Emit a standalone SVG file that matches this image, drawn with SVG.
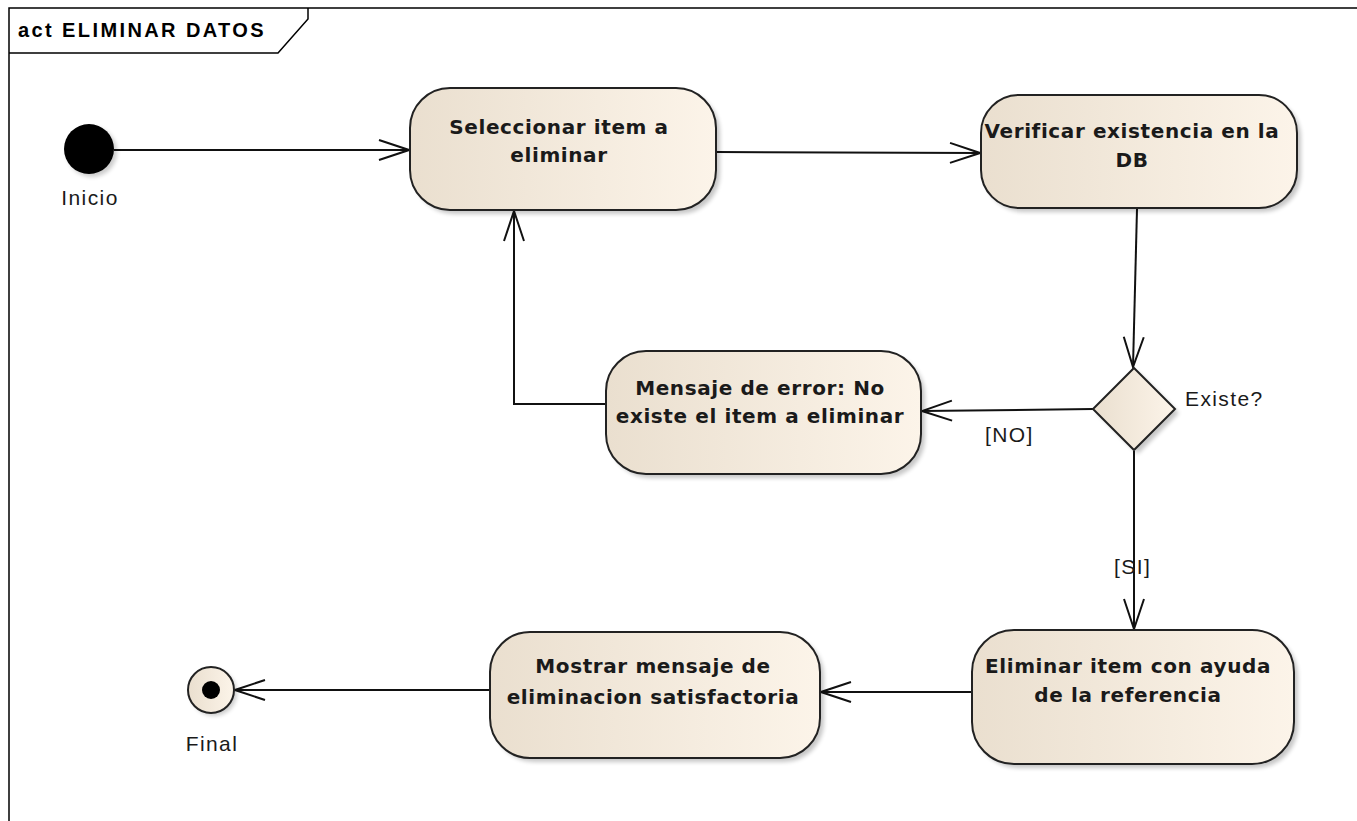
<svg xmlns="http://www.w3.org/2000/svg" width="1357" height="821" viewBox="0 0 1357 821">
  <style>
    .frame { fill: none; stroke: #000; stroke-width: 1.5; }
    .node { fill: url(#nodeFill); stroke: #222; stroke-width: 2; }
    .shadow { fill: #000; opacity: 0.22; filter: url(#soft); }
    .label { font-family: "DejaVu Sans", Verdana, sans-serif; font-weight: bold; font-size: 20px; letter-spacing: 0.6px; fill: #1a1a1a; text-anchor: middle; }
    .note { font-family: "Liberation Sans", Arial, sans-serif; font-size: 21px; letter-spacing: 1.4px; fill: #1a1a1a; }
    .title { font-family: "Liberation Sans", Arial, sans-serif; font-weight: bold; font-size: 20px; letter-spacing: 2.4px; fill: #000; }
    .edge { fill: none; stroke: #111; stroke-width: 2; marker-end: url(#open); }
  </style>
  <defs>
    <linearGradient id="nodeFill" x1="0" y1="0" x2="1" y2="0">
      <stop offset="0" stop-color="#eadfcf"/>
      <stop offset="1" stop-color="#fcf4e9"/>
    </linearGradient>
    <filter id="soft" x="-10%" y="-10%" width="120%" height="120%">
      <feGaussianBlur stdDeviation="2"/>
    </filter>
    <marker id="open" markerWidth="34" markerHeight="24" refX="32" refY="12" orient="auto" markerUnits="userSpaceOnUse">
      <path d="M2,2 L32,12 L2,22" fill="none" stroke="#111" stroke-width="2"/>
    </marker>
  </defs>

  <rect width="1357" height="821" fill="#fff"/>

  <!-- activity frame -->
  <g id="frame">
    <path class="frame" d="M9,821 L9,8 L1357,8"/>
    <path class="frame" d="M9,53 L278,53 L308,19 L308,8"/>
    <text class="title" x="18" y="37">act ELIMINAR DATOS</text>
  </g>

  <!-- connectors -->
  <g id="connectors">
    <line class="edge" x1="114" y1="150" x2="409" y2="150"/>
    <line class="edge" x1="716" y1="152" x2="980" y2="153"/>
    <line class="edge" x1="1137" y1="209" x2="1133" y2="367"/>
    <line class="edge" x1="1093" y1="409" x2="922" y2="411"/>
    <polyline class="edge" points="606,404 514,404 514,211"/>
    <line class="edge" x1="1134" y1="451" x2="1134" y2="629"/>
    <line class="edge" x1="972" y1="692" x2="821" y2="692"/>
    <line class="edge" x1="490" y1="690" x2="235" y2="690"/>
    <text class="note" x="985" y="442">[NO]</text>
    <text class="note" x="1114" y="574">[SI]</text>
  </g>

  <g id="inicio">
    <circle cx="92" cy="152" r="25" fill="#000" opacity="0.2" filter="url(#soft)"/>
    <circle cx="89" cy="149" r="25" fill="#000"/>
    <text class="note" x="90" y="205" text-anchor="middle">Inicio</text>
  </g>

  <g id="seleccionar">
    <rect class="shadow" x="414" y="92" width="306" height="122" rx="40"/>
    <rect class="node" x="410" y="88" width="306" height="122" rx="40"/>
    <text class="label" x="559" y="134">Seleccionar item a</text>
    <text class="label" x="559" y="162">eliminar</text>
  </g>

  <g id="verificar">
    <rect class="shadow" x="985" y="99" width="316" height="113" rx="38"/>
    <rect class="node" x="981" y="95" width="316" height="113" rx="38"/>
    <text class="label" x="1132" y="138">Verificar existencia en la</text>
    <text class="label" x="1132" y="167">DB</text>
  </g>

  <g id="existe">
    <path class="shadow" d="M1138,372 L1179,413 L1138,454 L1097,413 Z"/>
    <path class="node" d="M1134,368 L1175,409 L1134,450 L1093,409 Z"/>
    <text class="note" x="1185" y="406">Existe?</text>
  </g>

  <g id="mensaje-error">
    <rect class="shadow" x="610" y="355" width="315" height="123" rx="40"/>
    <rect class="node" x="606" y="351" width="315" height="123" rx="40"/>
    <text class="label" x="760" y="395">Mensaje de error: No</text>
    <text class="label" x="760" y="423">existe el item a eliminar</text>
  </g>

  <g id="eliminar">
    <rect class="shadow" x="976" y="634" width="322" height="134" rx="42"/>
    <rect class="node" x="972" y="630" width="322" height="134" rx="42"/>
    <text class="label" x="1128" y="673">Eliminar item con ayuda</text>
    <text class="label" x="1128" y="702">de la referencia</text>
  </g>

  <g id="mostrar">
    <rect class="shadow" x="494" y="636" width="330" height="126" rx="40"/>
    <rect class="node" x="490" y="632" width="330" height="126" rx="40"/>
    <text class="label" x="653" y="673">Mostrar mensaje de</text>
    <text class="label" x="653" y="704">eliminacion satisfactoria</text>
  </g>

  <g id="final">
    <circle cx="214" cy="693" r="23" fill="#000" opacity="0.2" filter="url(#soft)"/>
    <circle cx="211" cy="690" r="23" fill="url(#nodeFill)" stroke="#222" stroke-width="2"/>
    <circle cx="211" cy="690" r="9" fill="#000"/>
    <text class="note" x="212" y="751" text-anchor="middle">Final</text>
  </g>
</svg>
